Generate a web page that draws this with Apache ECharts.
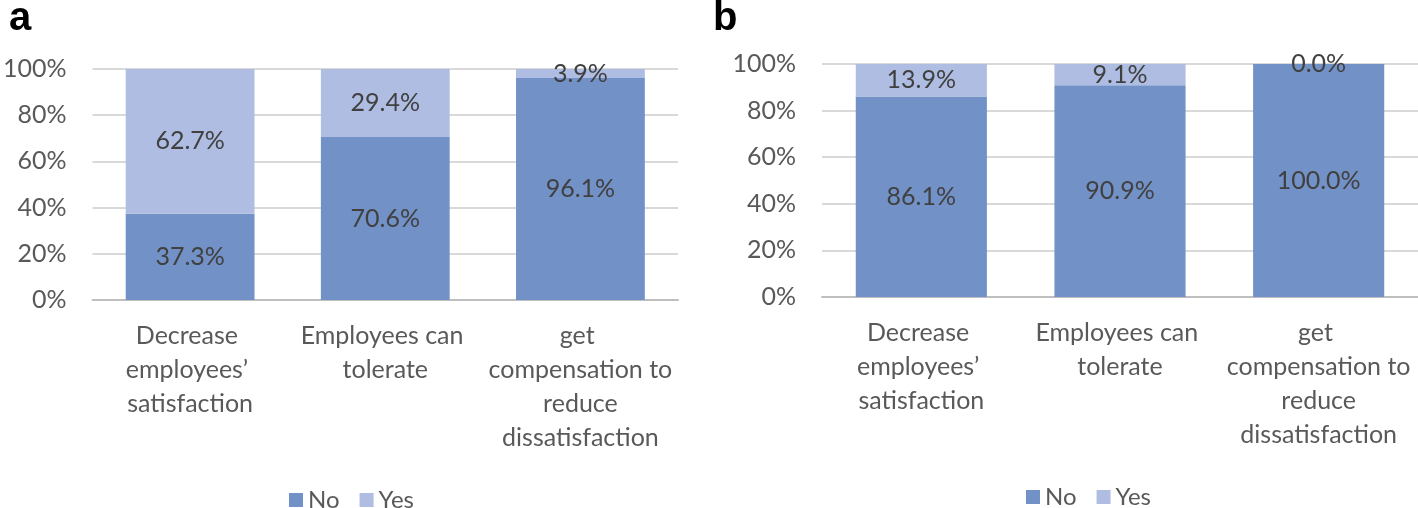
<!DOCTYPE html>
<html><head><meta charset="utf-8">
<script src="https://cdn.jsdelivr.net/npm/echarts@6/dist/echarts.min.js"></script>
<style>html,body{margin:0;padding:0;background:#fff}#c{width:1418px;height:508px}</style>
</head><body><div id="c"></div>
<script>
const categories = ["Decrease employees’ satisfaction", "Employees can tolerate", "get compensation to reduce dissatisfaction"];
const seriesNames = ["No", "Yes"];
const noA = [37.3, 70.6, 96.1];
const yesA = [62.7, 29.4, 3.9];
const noB = [86.1, 90.9, 100.0];
const yesB = [13.9, 9.1, 0.0];
const yTicks = [0, 20, 40, 60, 80, 100];
const panelTitles = ["a", "b"];

const FONT = "Lato";
const cNo = "#7291C6", cYes = "#AEBDE1";
const chart = echarts.init(document.getElementById('c'), null, {renderer: 'canvas'});

function xAx(gi) {
  return {
    type: 'category', gridIndex: gi, data: categories,
    axisTick: {show: false},
    axisLine: {lineStyle: {color: '#BFBFBF', width: 2}},
    axisLabel: {color: '#595959', fontFamily: FONT, fontSize: 25, lineHeight: 34, margin: 19,
      width: 190, overflow: 'break', interval: 0}
  };
}
function yAx(gi) {
  return {
    type: 'value', gridIndex: gi, min: 0, max: 100, interval: 20,
    axisLabel: {color: '#595959', fontFamily: FONT, fontSize: 25, margin: 26,
      formatter: v => yTicks.includes(v) ? v + '%' : ''},
    splitLine: {lineStyle: {color: '#D9D9D9', width: 2}},
    axisLine: {show: false}, axisTick: {show: false}
  };
}
function ser(name, data, gi, color) {
  return {
    name: name, type: 'bar', stack: 's' + gi, xAxisIndex: gi, yAxisIndex: gi,
    data: data, barCategoryGap: '34%',
    itemStyle: {color: color},
    label: {show: true, position: 'inside', color: '#404040', fontFamily: FONT, fontSize: 25,
      formatter: p => p.value.toFixed(1) + '%'}
  };
}
const legendCommon = {
  data: seriesNames, icon: 'rect', itemWidth: 14, itemHeight: 14, itemGap: 20,
  textStyle: {color: '#595959', fontFamily: FONT, fontSize: 24}
};
chart.setOption({
  animation: false,
  title: [
    {text: panelTitles[0], left: 4, top: -6, textStyle: {fontFamily: 'Liberation Sans', fontWeight: 'bold', fontSize: 40, color: '#000'}},
    {text: panelTitles[1], left: 708, top: -6, textStyle: {fontFamily: 'Liberation Sans', fontWeight: 'bold', fontSize: 40, color: '#000'}}
  ],
  grid: [
    {left: 85, width: 593, top: 69, height: 231},
    {left: 822, width: 596, top: 64, height: 233}
  ],
  xAxis: [xAx(0), xAx(1)],
  yAxis: [yAx(0), yAx(1)],
  legend: [
    Object.assign({left: 284, top: 483}, legendCommon),
    Object.assign({left: 1021, top: 480}, legendCommon)
  ],
  series: [
    ser(seriesNames[0], noA, 0, cNo), ser(seriesNames[1], yesA, 0, cYes),
    ser(seriesNames[0], noB, 1, cNo), ser(seriesNames[1], yesB, 1, cYes)
  ]
});
</script></body></html>
